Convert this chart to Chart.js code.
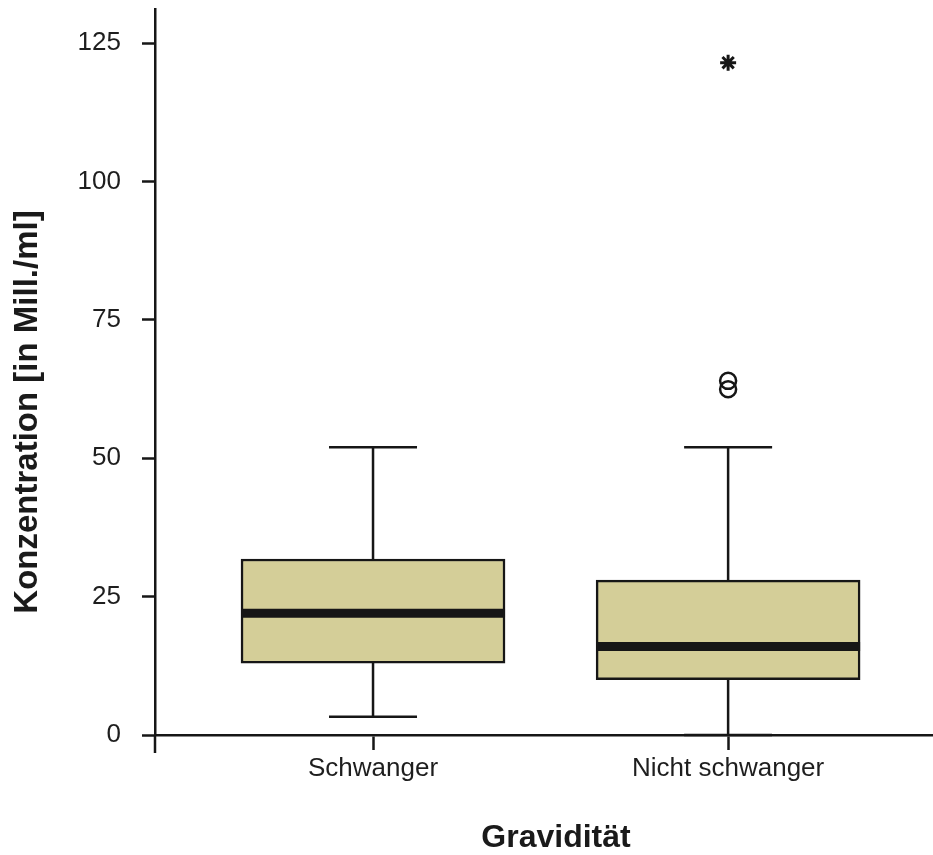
<!DOCTYPE html>
<html>
<head>
<meta charset="utf-8">
<script src="https://cdn.jsdelivr.net/npm/chart.js@4.4.1/dist/chart.umd.min.js"></script>
<style>
  html, body { margin: 0; padding: 0; background: #ffffff; overflow: hidden; }
  #wrap { width: 933px; height: 855px; position: relative; }
  canvas { display: block; }
</style>
</head>
<body>
<div id="wrap"><canvas id="c" width="933" height="855"></canvas></div>
<script>
// ---- data ----
const categories = ["Schwanger", "Nicht schwanger"];
const whiskerLow = [3.3, 0];
const q1 = [13.0, 10.0];
const median = [22.0, 16.0];
const q3 = [31.8, 28.0];
const whiskerHigh = [52.0, 52.0];
const outlierCat = [2, 2];          // category position (1-based)
const outlierValues = [62.5, 64.0];
const extremeCat = [2];
const extremeValues = [121.5];
const yTicks = [0, 25, 50, 75, 100, 125];
const xTitle = 'Gravidität';
const yTitle = 'Konzentration [in Mill./ml]';

const boxData = categories.map((c, i) => ({ x: i + 1, y: [q1[i], q3[i]] }));
const outlierData = outlierValues.map((v, i) => ({ x: outlierCat[i], y: v }));
const extremeData = extremeValues.map((v, i) => ({ x: extremeCat[i], y: v }));

const INK = '#161616';
const FONT = "'Liberation Sans', Arial, Helvetica, sans-serif";

const boxPlugin = {
  id: 'boxParts',
  beforeDatasetsDraw(chart) {
    const { ctx } = chart;
    const xs = chart.scales.x, ys = chart.scales.y;
    ctx.save();
    ctx.strokeStyle = INK;
    ctx.lineWidth = 2.5;
    ctx.lineCap = 'butt';
    categories.forEach((c, i) => {
      const px = xs.getPixelForValue(i + 1);
      const capHalf = 44;
      ctx.beginPath();
      ctx.moveTo(px, ys.getPixelForValue(q3[i]));
      ctx.lineTo(px, ys.getPixelForValue(whiskerHigh[i]));
      ctx.moveTo(px - capHalf, ys.getPixelForValue(whiskerHigh[i]));
      ctx.lineTo(px + capHalf, ys.getPixelForValue(whiskerHigh[i]));
      ctx.moveTo(px, ys.getPixelForValue(q1[i]));
      ctx.lineTo(px, ys.getPixelForValue(whiskerLow[i]));
      ctx.moveTo(px - capHalf, ys.getPixelForValue(whiskerLow[i]));
      ctx.lineTo(px + capHalf, ys.getPixelForValue(whiskerLow[i]));
      ctx.stroke();
    });
    ctx.restore();
  },
  afterDatasetsDraw(chart) {
    const { ctx } = chart;
    const meta = chart.getDatasetMeta(0);
    const ys = chart.scales.y;
    ctx.save();
    ctx.strokeStyle = INK;
    ctx.lineWidth = 9;
    meta.data.forEach((bar, i) => {
      const half = bar.width / 2;
      const py = ys.getPixelForValue(median[i]);
      ctx.beginPath();
      ctx.moveTo(bar.x - half, py);
      ctx.lineTo(bar.x + half, py);
      ctx.stroke();
    });
    ctx.restore();
  },
  afterDraw(chart) {
    const { ctx } = chart;
    const ys = chart.scales.y;
    const x0 = chart.chartArea.left;
    const y0 = ys.getPixelForValue(0);
    ctx.save();
    ctx.strokeStyle = INK;
    ctx.lineWidth = 2.5;
    ctx.beginPath();
    ctx.moveTo(x0, y0);
    ctx.lineTo(x0, y0 + 18);
    ctx.stroke();
    // axis titles
    ctx.fillStyle = '#1a1a1a';
    ctx.font = 'bold 33px ' + FONT;
    ctx.textAlign = 'center';
    ctx.textBaseline = 'middle';
    ctx.save();
    ctx.translate(28, 412);
    ctx.rotate(-Math.PI / 2);
    ctx.fillText(yTitle, 0, 0);
    ctx.restore();
    ctx.font = 'bold 32px ' + FONT;
    ctx.fillText(xTitle, 556, 838);
    ctx.restore();
  }
};

new Chart(document.getElementById('c'), {
  type: 'bar',
  data: {
    datasets: [
      {
        data: boxData,
        backgroundColor: '#d4ce98',
        borderColor: INK,
        borderWidth: 2.5,
        borderSkipped: false,
        barThickness: 264,
        order: 2
      },
      {
        type: 'scatter',
        data: outlierData,
        pointStyle: 'circle',
        pointRadius: 8,
        pointBorderWidth: 2.5,
        pointBackgroundColor: 'rgba(0,0,0,0)',
        pointBorderColor: INK,
        order: 1
      },
      {
        type: 'scatter',
        data: extremeData,
        pointStyle: 'star',
        pointRadius: 8,
        pointBorderWidth: 3,
        pointBorderColor: INK,
        order: 1
      }
    ]
  },
  options: {
    responsive: false,
    animation: false,
    devicePixelRatio: 1,
    layout: { autoPadding: false, padding: { top: 9, right: 0, bottom: 0, left: 0 } },
    plugins: { legend: { display: false }, tooltip: { enabled: false } },
    scales: {
      x: {
        type: 'linear',
        offset: false,
        min: 0.386,
        max: 2.577,
        afterBuildTicks(scale) { scale.ticks = categories.map((c, i) => ({ value: i + 1 })); },
        afterFit(scale) { scale.height = 120; scale.paddingLeft = 0; scale.paddingRight = 0; },
        grid: { offset: false, drawOnChartArea: false, drawTicks: true, tickLength: 15, tickWidth: 2.5, tickColor: INK },
        border: { display: true, color: INK, width: 2.5 },
        ticks: {
          autoSkip: false,
          maxRotation: 0,
          padding: 3,
          color: '#1e1e1e',
          font: { family: FONT, size: 26 },
          callback: (v) => categories[Math.round(v) - 1] || ''
        },
        title: { display: false }
      },
      y: {
        type: 'linear',
        min: 0,
        max: 131.2,
        afterBuildTicks(scale) { scale.ticks = yTicks.map(v => ({ value: v })); },
        afterFit(scale) { scale.width = 155; scale.paddingTop = 0; scale.paddingBottom = 0; },
        grid: { drawOnChartArea: false, drawTicks: true, tickLength: 13, tickWidth: 2.5, tickColor: INK },
        border: { display: true, color: INK, width: 2.5 },
        ticks: {
          padding: 21,
          color: '#1e1e1e',
          font: { family: FONT, size: 26 }
        },
        title: { display: false }
      }
    }
  },
  plugins: [boxPlugin]
});
</script>
</body>
</html>
